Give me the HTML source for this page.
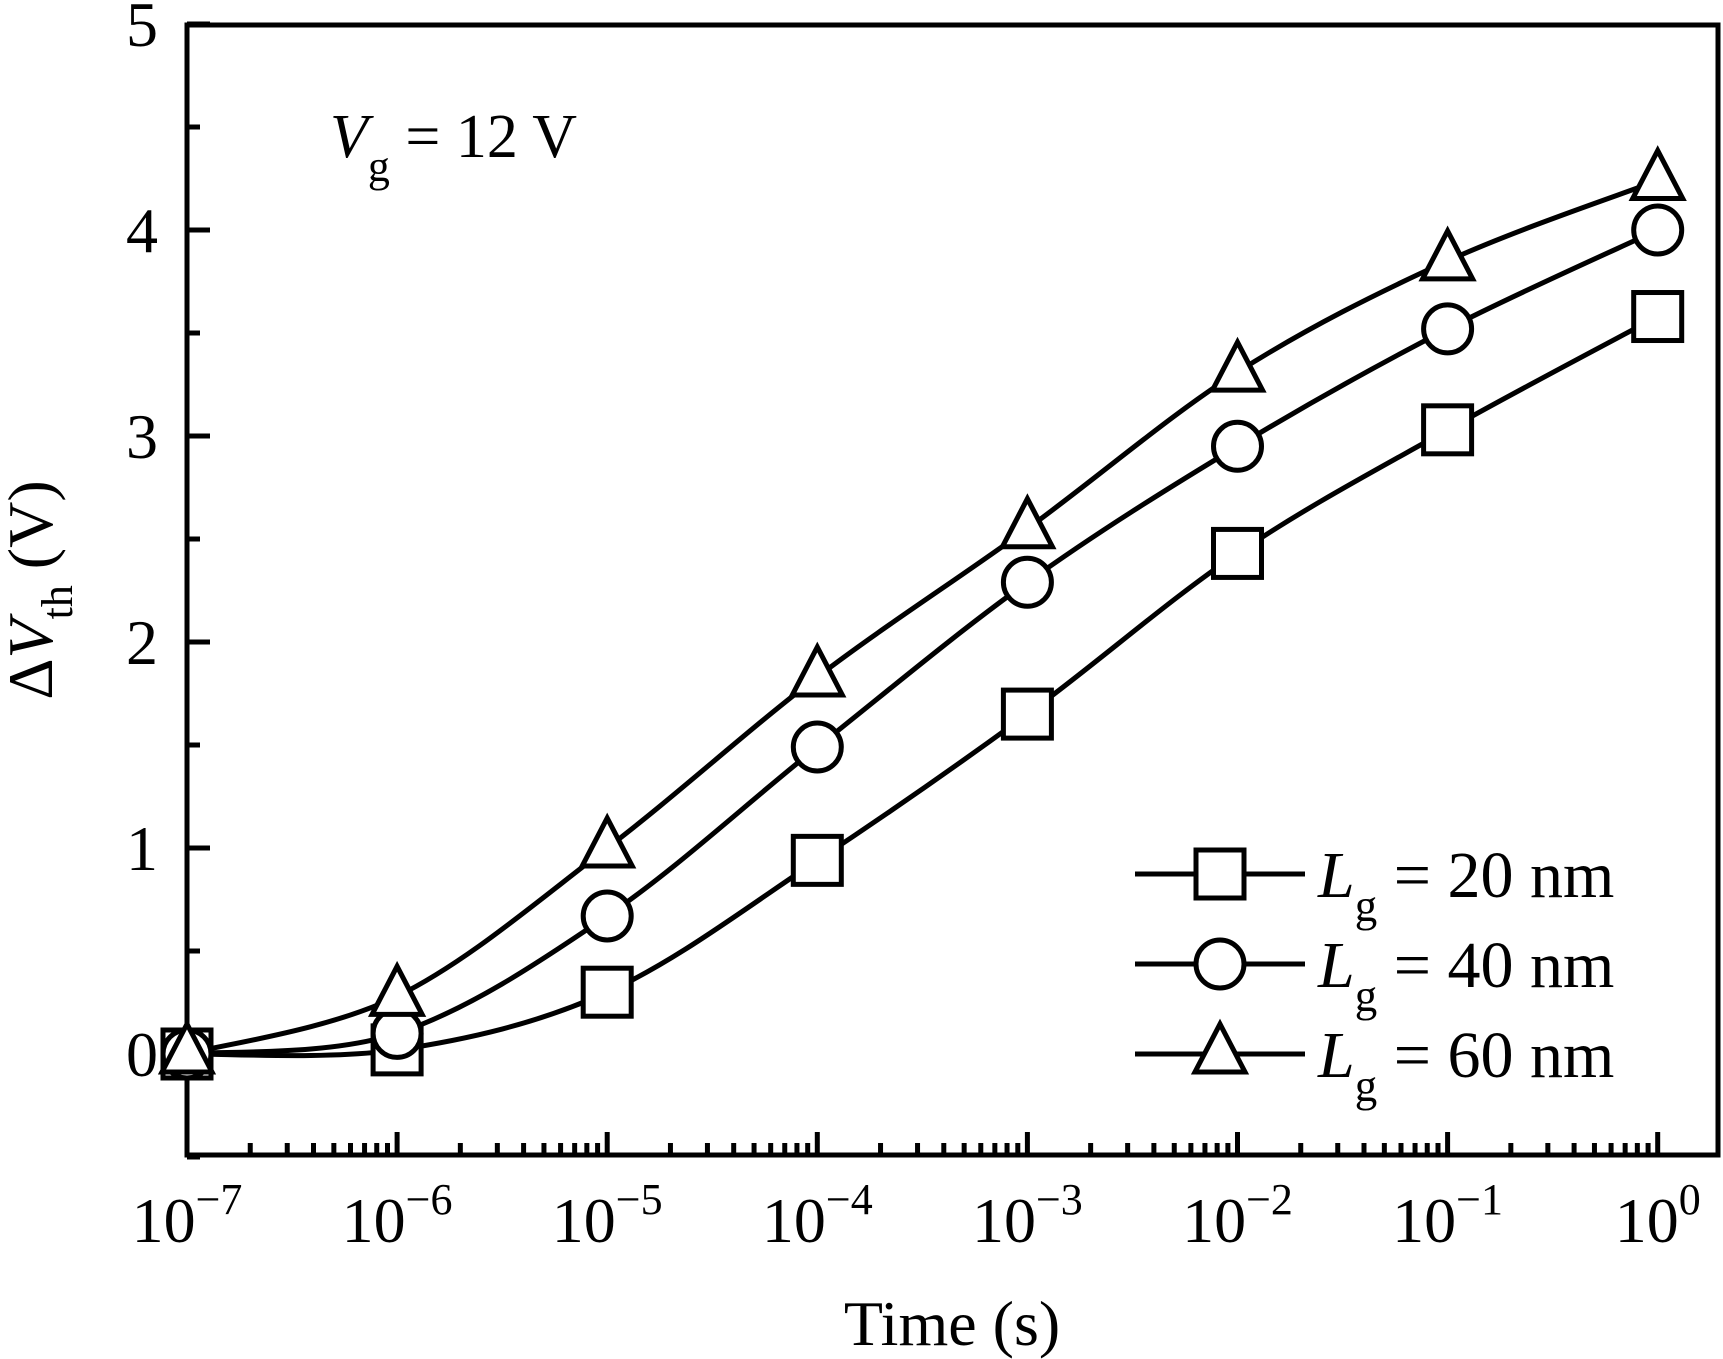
<!DOCTYPE html>
<html><head><meta charset="utf-8"><style>
html,body{margin:0;padding:0;background:#fff;}
svg{display:block;font-family:"Liberation Serif",serif;}
</style></head><body>
<svg id="chart" width="1723" height="1359" viewBox="0 0 1723 1359" xmlns="http://www.w3.org/2000/svg">
<g id="axes"></g>
<g id="series"></g>
<text x="330" y="157" font-size="62"><tspan font-style="italic">V</tspan><tspan font-size="44" dy="24">g</tspan><tspan dy="-24"> = 12 V</tspan></text>
<text x="952" y="1345" font-size="64" text-anchor="middle">Time (s)</text>
<text transform="translate(52,590) rotate(-90)" font-size="64" text-anchor="middle">Δ<tspan font-style="italic">V</tspan><tspan font-size="44" dy="20">th</tspan><tspan dy="-20"> (V)</tspan></text>
<g id="legend"></g>
</svg>
<script>
const times = [-7,-6,-5,-4,-3,-2,-1,0];
const seriesNames = ["Lg = 20 nm","Lg = 40 nm","Lg = 60 nm"];
const values20 = [0,0.02,0.3,0.94,1.65,2.43,3.03,3.58];
const values40 = [0,0.1,0.67,1.49,2.29,2.95,3.52,4.0];
const values60 = [0,0.28,1.0,1.83,2.55,3.31,3.85,4.24];
const yTicks = [0,1,2,3,4,5];
const xTickExps = [-7,-6,-5,-4,-3,-2,-1,0];

const NS="http://www.w3.org/2000/svg";
const L=187,R=1718,T=25,B=1155;
const X0=187,DEC=210.1;
const Y0=1054,UNIT=206;
const xs=e=>X0+(e+7)*DEC;
const ys=v=>Y0-v*UNIT;
function mk(tag,attrs,parent){const el=document.createElementNS(NS,tag);for(const k in attrs)el.setAttribute(k,attrs[k]);parent.appendChild(el);return el;}
const axes=document.getElementById('axes');
const frame=mk('rect',{x:L,y:T,width:R-L,height:B-T,fill:'none',stroke:'#000','stroke-width':5},axes);


yTicks.forEach(v=>{
  const t=mk('line',{x1:L,x2:L+23,y1:ys(v),y2:ys(v),stroke:'#000','stroke-width':5},axes);
  
  
  const lb=mk('text',{x:158,y:ys(v)+22,'font-size':64,'text-anchor':'end'},axes);
  lb.textContent=String(v);
  
  
});
for(let v=-0.5;v<5;v+=1){
  const t=mk('line',{x1:L,x2:L+13,y1:ys(v),y2:ys(v),stroke:'#000','stroke-width':5},axes);
  
  
}
xTickExps.forEach(e=>{
  const x=xs(e);
  const t=mk('line',{x1:x,x2:x,y1:B,y2:B-23,stroke:'#000','stroke-width':5},axes);
  
  
  const lb=mk('text',{x:x,y:1242,'font-size':64,'text-anchor':'middle'},axes);
  lb.innerHTML='10<tspan font-size="44" dy="-28">'+(e===0?'0':'−'+(-e))+'</tspan>';
  
  
  if(e<0){for(let m=2;m<=9;m++){const xm=xs(e+Math.log10(m));
    const mt=mk('line',{x1:xm,x2:xm,y1:B,y2:B-12,stroke:'#000','stroke-width':5},axes);
    
    }}
});
const ser=document.getElementById('series');
function smooth(pts){let d='M'+pts[0][0]+','+pts[0][1];
  for(let i=0;i<pts.length-1;i++){const p0=pts[Math.max(0,i-1)],p1=pts[i],p2=pts[i+1],p3=pts[Math.min(pts.length-1,i+2)];
    const c1=[p1[0]+(p2[0]-p0[0])/6,p1[1]+(p2[1]-p0[1])/6],c2=[p2[0]-(p3[0]-p1[0])/6,p2[1]-(p3[1]-p1[1])/6];
    d+=' C'+c1+' '+c2+' '+p2;}return d;}
function marker(type,x,y,parent){let el;
  if(type===0)el=mk('rect',{x:x-24,y:y-24,width:48,height:48,fill:'#fff',stroke:'#000','stroke-width':5},parent);
  else if(type===1)el=mk('circle',{cx:x,cy:y,r:24,fill:'#fff',stroke:'#000','stroke-width':5},parent);
  else el=mk('polygon',{points:`${x},${y-30} ${x-25},${y+18} ${x+25},${y+18}`,fill:'#fff',stroke:'#000','stroke-width':5},parent);
  return el;}
const all=[values20,values40,values60];
const names=['series-20nm','series-40nm','series-60nm'];
all.forEach((vals,si)=>{
  const g=mk('g',{},ser);
  
  
  const pts=vals.map((v,i)=>[xs(times[i]),ys(v)]);
  const p=mk('path',{d:smooth(pts),fill:'none',stroke:'#000','stroke-width':5},g);
  
  
});
all.forEach((vals,si)=>{
  vals.forEach((v,i)=>{const m=marker(si,xs(times[i]),ys(v),ser);
    
    });
});
const lg=document.getElementById('legend');
const rowsY=[874,964,1054];const labNums=['20','40','60'];
rowsY.forEach((y,i)=>{
  const ln=mk('line',{x1:1135,x2:1305,y1:y,y2:y,stroke:'#000','stroke-width':5},lg);
  
  
  const m=marker(i,1220,y,lg);
  
  
  const t=mk('text',{x:1318,y:y+23,'font-size':66},lg);
  t.innerHTML='<tspan font-style="italic">L</tspan><tspan font-size="45" dy="24">g</tspan><tspan dy="-24"> = '+labNums[i]+' nm</tspan>';
  
  
});
</script>
</body></html>
